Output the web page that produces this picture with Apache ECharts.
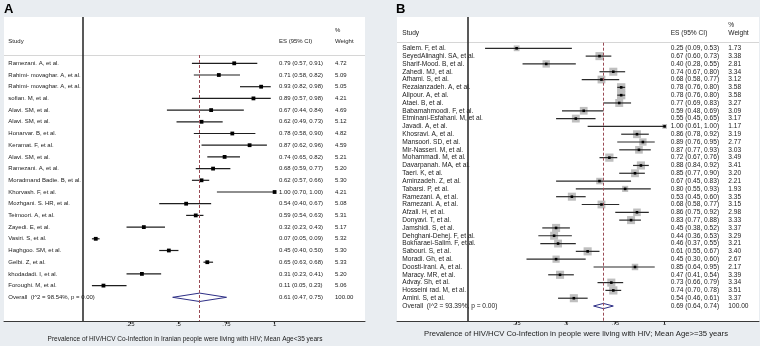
<!DOCTYPE html>
<html><head><meta charset="utf-8">
<script src="https://cdn.jsdelivr.net/npm/echarts@6/dist/echarts.min.js"></script>
<style>html,body{margin:0;padding:0;background:#e9edf1;}#c{width:760px;height:346px;}</style>
</head><body><div id="c"></div>
<script>
// ---------- data ----------
const studiesA = ['Ramezani. A, et al.','Rahimi- movaghar. A, et al.','Rahimi- movaghar. A, et al.','sofian. M, et al.','Alavi. SM, et al.','Alavi. SM, et al.','Honarvar. B, et al.','Keramat. F, et al.','Alavi. SM, et al.','Ramezani. A, et al.','Moradmand Badie. B, et al.','Khorvash. F, et al.','Mozhgani. S. HR, et al.','Teimoori. A, et al.','Zayedi. E, et al.','Vasiri. S, et al.','Haghgoo. SM, et al.','Gelbi. Z, et al.','khodadadi. I, et al.','Foroughi. M, et al.'];
const esA = [0.79,0.71,0.93,0.89,0.67,0.62,0.78,0.87,0.74,0.68,0.62,1.00,0.54,0.59,0.32,0.07,0.45,0.65,0.31,0.11];
const loA = [0.57,0.58,0.82,0.57,0.44,0.49,0.58,0.62,0.65,0.59,0.57,0.70,0.40,0.54,0.23,0.05,0.40,0.63,0.23,0.05];
const hiA = [0.91,0.82,0.98,0.98,0.84,0.73,0.90,0.96,0.82,0.77,0.66,1.00,0.67,0.63,0.43,0.09,0.50,0.68,0.41,0.23];
const weightA = [4.72,5.09,5.05,4.21,4.69,5.12,4.82,4.59,5.21,5.20,5.30,4.21,5.08,5.31,5.17,5.32,5.30,5.33,5.20,5.06];
const overallA = [0.61,0.47,0.75];
const overallLabelA = 'Overall  (I^2 = 98.54%, p = 0.00)';
const overallWeightA = '100.00';
const titleA = 'Prevalence of HIV/HCV Co-Infection in Iranian people were living with HIV; Mean Age<35 years';

const studiesB = ['Salem. F, et al.','SeyedAlinaghi. SA, et al.','Sharif-Mood. B, et al.','Zahedi. MJ, et al.','Afhami. S, et al.','Rezaianzadeh. A, et al.','Alipour. A, et al.','Ataei. B, et al.','Babamahmoodi. F, et al.','Etminani-Esfahani. M, et al.','Javadi. A, et al.','Khosravi. A, et al.','Mansoori. SD, et al.','Mir-Nasseri. M, et al.','Mohammadi. M, et al.','Davarpanah. MA, et al.','Taeri. K, et al.','Aminzadeh. Z, et al.','Tabarsi. P, et al.','Ramezani. A, et al.','Ramezani. A, et al.','Afzali. H, et al.','Donyavi. T, et al.','Jamshidi. S, et al.','Dehghani-Dehej. F, et al.','Bokharaei-Salim. F, et al.','Sabouri. S, et al.','Moradi. Gh, et al.','Doosti-Irani. A, et al.','Maracy. MR, et al.','Advay. Sh, et al.','Hosseini rad. M, et al.','Amini. S, et al.'];
const esB = [0.25,0.67,0.40,0.74,0.68,0.78,0.78,0.77,0.59,0.55,1.00,0.86,0.89,0.87,0.72,0.88,0.85,0.67,0.80,0.53,0.68,0.86,0.83,0.45,0.44,0.46,0.61,0.45,0.85,0.47,0.73,0.74,0.54];
const loB = [0.09,0.60,0.28,0.67,0.58,0.76,0.76,0.69,0.48,0.45,0.61,0.78,0.76,0.77,0.67,0.84,0.77,0.45,0.55,0.45,0.58,0.75,0.77,0.38,0.36,0.37,0.55,0.30,0.64,0.41,0.66,0.70,0.46];
const hiB = [0.53,0.73,0.55,0.80,0.77,0.80,0.80,0.83,0.69,0.65,1.00,0.92,0.95,0.93,0.76,0.92,0.90,0.83,0.93,0.60,0.77,0.92,0.88,0.52,0.53,0.55,0.67,0.60,0.95,0.54,0.79,0.78,0.61];
const weightB = [1.73,3.38,2.81,3.34,3.12,3.58,3.58,3.27,3.09,3.17,1.17,3.19,2.77,3.03,3.49,3.41,3.20,2.21,1.93,3.35,3.15,2.98,3.33,3.37,3.29,3.21,3.40,2.67,2.17,3.39,3.34,3.51,3.37];
const overallB = [0.69,0.64,0.74];
const overallLabelB = 'Overall  (I^2 = 93.39%, p = 0.00)';
const overallWeightB = '100.00';
const titleB = 'Prevalence of HIV/HCV Co-Infection in people were living with HIV; Mean Age>=35 years';

const tickValues = [0.25, 0.5, 0.75, 1];
const tickLabels = ['.25', '.5', '.75', '1'];

// ---------- helpers ----------
const FONT = 'Liberation Sans, Arial, Helvetica, sans-serif';
const f2 = v => v.toFixed(2);
const ciText = (e, l, h) => `${f2(e)} (${f2(l)}, ${f2(h)})`;
const tickFmt = v => { const i = tickValues.findIndex(t => Math.abs(t - v) < 1e-6); return i < 0 ? '' : tickLabels[i]; };

function panel(cfg) {
  const n = cfg.studies.length;
  const names = cfg.studies.concat([cfg.overallLabel]);
  const esCol = cfg.es.map((e, i) => ciText(e, cfg.lo[i], cfg.hi[i])).concat([ciText(...cfg.overall)]);
  const wCol = cfg.weight.map(f2).concat([cfg.overallWeight]);
  const rowIdx = names.map((_, i) => i);
  const rowAxis = (pos, offset, margin, labels, inside) => ({
    gridIndex: cfg.gi, type: 'value', inverse: true, min: cfg.yMin, max: cfg.yMax,
    position: pos, offset: offset,
    axisLine: { show: false, onZero: false }, axisTick: { show: false }, splitLine: { show: false },
    axisLabel: { inside: inside, margin: margin, customValues: rowIdx,
      formatter: v => labels[Math.round(v)] || '', fontSize: cfg.fs, color: '#1a1a1a', fontFamily: FONT }
  });
  const yAxes = [
    rowAxis('left', 0, cfg.nameMargin, names, true),
    rowAxis('right', cfg.esOffset, 0, esCol, false),
    rowAxis('right', cfg.wOffset, 0, wCol, false)
  ];
  const xAxis = {
    gridIndex: cfg.gi, type: 'value', min: cfg.xMin, max: cfg.xMax, position: 'bottom',
    axisLine: { show: true, onZero: false, lineStyle: { color: '#3a3a3a', width: 1 } },
    axisTick: { show: true, customValues: tickValues, length: 3, lineStyle: { color: '#3a3a3a' } },
    axisLabel: { customValues: tickValues, formatter: tickFmt, fontSize: cfg.tickFs, color: '#1a1a1a', margin: cfg.tickMargin, fontFamily: FONT },
    splitLine: { show: false }
  };
  const ciData = cfg.es.map((e, i) => [e, cfg.lo[i], cfg.hi[i], cfg.weight[i], i]);
  const series = [
    {
      type: 'custom', xAxisIndex: cfg.xi, yAxisIndex: cfg.yi, silent: true, z: 3,
      encode: { x: [0, 1, 2], y: 4 },
      data: ciData,
      renderItem: (params, api) => {
        const e = api.value(0), l = api.value(1), h = api.value(2), w = api.value(3), r = api.value(4);
        const pL = api.coord([l, r]), pH = api.coord([h, r]), pE = api.coord([e, r]);
        const ch = [];
        if (cfg.boxK > 0) {
          const s = cfg.boxK * Math.sqrt(w);
          ch.push({ type: 'rect', shape: { x: pE[0] - s / 2, y: pE[1] - s / 2, width: s, height: s }, style: { fill: '#bfbfbf' } });
        }
        ch.push({ type: 'line', shape: { x1: pL[0], y1: pL[1], x2: pH[0], y2: pH[1] }, style: { stroke: cfg.lineColor, lineWidth: 1.2 } });
        const m = cfg.markSize;
        ch.push({ type: 'rect', shape: { x: pE[0] - m / 2, y: pE[1] - m / 2, width: m, height: m }, style: { fill: '#000' } });
        return { type: 'group', children: ch };
      }
    },
    {
      type: 'custom', xAxisIndex: cfg.xi, yAxisIndex: cfg.yi, silent: true, z: 3,
      encode: { x: [0, 1, 2], y: 3 },
      data: [[cfg.overall[0], cfg.overall[1], cfg.overall[2], n]],
      renderItem: (params, api) => {
        const r = api.value(3);
        const pE = api.coord([api.value(0), r]), pL = api.coord([api.value(1), r]), pH = api.coord([api.value(2), r]);
        const hh = cfg.diamondH;
        return { type: 'polygon', shape: { points: [pL, [pE[0], pE[1] - hh], pH, [pE[0], pE[1] + hh]] },
          style: { fill: '#fff', stroke: '#2e2f86', lineWidth: 1 } };
      }
    },
    {
      type: 'line', xAxisIndex: cfg.xi, yAxisIndex: cfg.yi, data: [], silent: true, z: 2,
      markLine: {
        silent: true, symbol: 'none', label: { show: false }, animation: false,
        data: [
          { yAxis: cfg.sepRow, lineStyle: { color: '#d6d6d6', width: 1, type: 'solid' } },
          { xAxis: 0, lineStyle: { color: '#222', width: 1.5, type: 'solid' } },
          [ { coord: [cfg.overall[0], cfg.sepRow], lineStyle: { color: '#9a4a55', width: 1, type: [3, 2] } },
            { coord: [cfg.overall[0], cfg.yMax] } ]
        ]
      }
    }
  ];
  return { xAxis, yAxes, series };
}

// ---------- layout ----------
const pA = panel({
  gi: 0, xi: 0, yi: 0,
  studies: studiesA, es: esA, lo: loA, hi: hiA, weight: weightA,
  overall: overallA, overallLabel: overallLabelA, overallWeight: overallWeightA,
  xMin: (4 - 82.3) / 192.3, xMax: (365 - 82.3) / 192.3,
  yMin: (17 - 63.3) / 11.7, yMax: (321 - 63.3) / 11.7, sepRow: (55 - 63.3) / 11.7,
  fs: 6, tickFs: 6, tickMargin: 0.5, nameMargin: 4.3,
  esOffset: -86, wOffset: -30, boxK: 0, markSize: 3.8, lineColor: '#1e1e1e', diamondH: 4.2
});
const pB = panel({
  gi: 1, xi: 1, yi: 3,
  studies: studiesB, es: esB, lo: loB, hi: hiB, weight: weightB,
  overall: overallB, overallLabel: overallLabelB, overallWeight: overallWeightB,
  xMin: (397 - 467.3) / 197.3, xMax: (759 - 467.3) / 197.3,
  yMin: (17 - 48.3) / 7.81, yMax: (321 - 48.3) / 7.81, sepRow: (42.7 - 48.3) / 7.81,
  fs: 6.6, tickFs: 5.6, tickMargin: -1, nameMargin: 5.3,
  esOffset: -88.3, wOffset: -30.7, boxK: 4.4, markSize: 2.6, lineColor: '#2a2a2a', diamondH: 2.6
});

const txt = (x, y, t, fs, align) => ({ type: 'text', x: x, y: y, silent: true, z: 10,
  style: { text: t, fill: '#1a1a1a', font: `${fs}px ${FONT}`, textVerticalAlign: 'middle', textAlign: align || 'left' } });

const option = {
  backgroundColor: '#e9edf1',
  animation: false,
  grid: [
    { left: 4, top: 17, width: 361, height: 304, show: true, backgroundColor: '#ffffff', borderWidth: 0 },
    { left: 397, top: 17, width: 362, height: 304, show: true, backgroundColor: '#ffffff', borderWidth: 0 }
  ],
  xAxis: [pA.xAxis, pB.xAxis],
  yAxis: pA.yAxes.concat(pB.yAxes),
  series: pA.series.concat(pB.series),
  graphic: [
    { type: 'text', x: 4, y: 9, silent: true, style: { text: 'A', fill: '#000', font: `bold 13px ${FONT}`, textVerticalAlign: 'middle' } },
    { type: 'text', x: 396, y: 9, silent: true, style: { text: 'B', fill: '#000', font: `bold 13px ${FONT}`, textVerticalAlign: 'middle' } },
    txt(8.3, 41, 'Study', 6), txt(279, 41, 'ES (95% CI)', 6), txt(335, 30, '%', 6), txt(335, 41, 'Weight', 6),
    txt(402.3, 33, 'Study', 6.6), txt(670.7, 33, 'ES (95% CI)', 6.6), txt(728.3, 25, '%', 6.6), txt(728.3, 33, 'Weight', 6.6),
    txt(185, 339, titleA, 6.5, 'center'),
    txt(576, 333.5, titleB, 7.7, 'center')
  ]
};
echarts.init(document.getElementById('c'), null, { renderer: 'canvas' }).setOption(option);
</script>
</body></html>
